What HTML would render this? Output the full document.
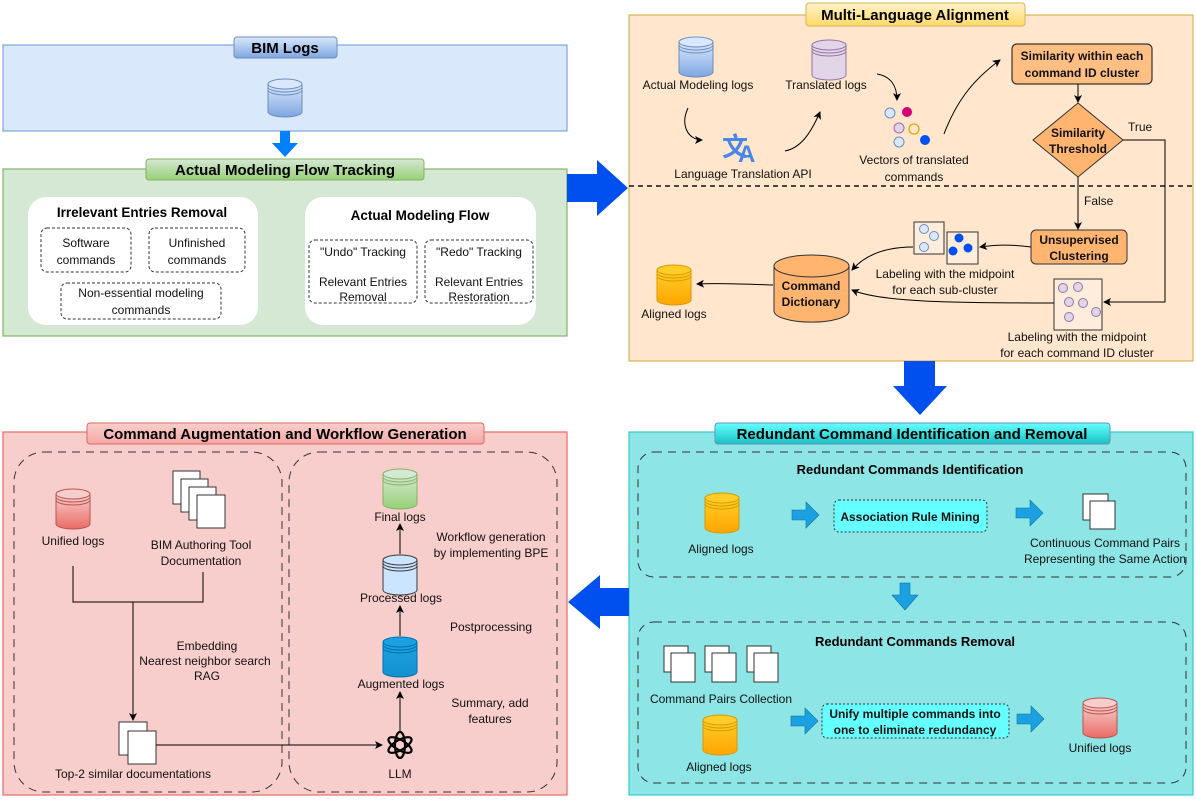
<!DOCTYPE html>
<html><head><meta charset="utf-8"><style>
html,body{margin:0;padding:0;background:#fff;}
svg{display:block;font-family:"Liberation Sans",Arial,sans-serif;}
.t{font-size:12px;fill:#111;}
.b{font-weight:bold;}
</style></head><body>
<svg width="1196" height="810" viewBox="0 0 1196 810" xmlns="http://www.w3.org/2000/svg">
<defs>
<marker id="ah" markerWidth="8" markerHeight="8" refX="7" refY="4" orient="auto" markerUnits="userSpaceOnUse"><path d="M0,0 L8,4 L0,8 L2,4 z" fill="#000"/></marker>
<linearGradient id="gBlue" x1="0" y1="0" x2="0" y2="1"><stop offset="0" stop-color="#dae8fc"/><stop offset="1" stop-color="#7ea6e0"/></linearGradient>
<linearGradient id="gGreen" x1="0" y1="0" x2="0" y2="1"><stop offset="0" stop-color="#d5e8d4"/><stop offset="1" stop-color="#97d077"/></linearGradient>
<linearGradient id="gYel" x1="0" y1="0" x2="0" y2="1"><stop offset="0" stop-color="#fff2cc"/><stop offset="1" stop-color="#ffd966"/></linearGradient>
<linearGradient id="gRed" x1="0" y1="0" x2="0" y2="1"><stop offset="0" stop-color="#f8cecc"/><stop offset="1" stop-color="#f5a8a5"/></linearGradient>
<linearGradient id="gCyan" x1="0" y1="0" x2="0" y2="1"><stop offset="0" stop-color="#66ffff"/><stop offset="1" stop-color="#18c2c2"/></linearGradient>
<linearGradient id="cBlue" x1="0" y1="0" x2="0" y2="1"><stop offset="0" stop-color="#dae8fc"/><stop offset="1" stop-color="#7ea6e0"/></linearGradient>
<linearGradient id="cOr" x1="0" y1="0" x2="0" y2="1"><stop offset="0" stop-color="#ffcd28"/><stop offset="1" stop-color="#ffa500"/></linearGradient>
<linearGradient id="cRed" x1="0" y1="0" x2="0" y2="1"><stop offset="0" stop-color="#f8cecc"/><stop offset="1" stop-color="#ea6b66"/></linearGradient>
<linearGradient id="cGrn" x1="0" y1="0" x2="0" y2="1"><stop offset="0" stop-color="#d5e8d4"/><stop offset="1" stop-color="#97d077"/></linearGradient>
<linearGradient id="cDB" x1="0" y1="0" x2="0" y2="1"><stop offset="0" stop-color="#1ba1e2"/><stop offset="1" stop-color="#1492d0"/></linearGradient>
</defs>

<rect x="3" y="45" width="564" height="86" fill="#dae8fc" stroke="#7ea6e0" stroke-width="1.2"/>
<rect x="234" y="37" width="103" height="21" rx="3" fill="url(#gBlue)" stroke="#6c8ebf"/>
<text x="285" y="53" text-anchor="middle" class="b" font-size="15">BIM Logs</text>
<g><path d="M268,84 v28 a17,5 0 0 0 34,0 v-28" fill="url(#cBlue)" stroke="#6c8ebf"/><ellipse cx="285" cy="84" rx="17" ry="5" fill="#dae8fc" stroke="#6c8ebf"/><path d="M268,87 a17,5 0 0 0 34,0 M268,90 a17,5 0 0 0 34,0" fill="none" stroke="#6c8ebf"/></g>
<path d="M280,131 h10 v12 h8 l-13,14 l-13,-14 h8 z" fill="#007fff"/>

<rect x="3" y="169" width="564" height="167" fill="#d5e8d4" stroke="#82b366" stroke-width="1.2"/>
<rect x="146" y="159" width="278" height="21" rx="3" fill="url(#gGreen)" stroke="#82b366"/>
<text x="285" y="175" text-anchor="middle" class="b" font-size="15">Actual Modeling Flow Tracking</text>
<rect x="28" y="197" width="230" height="128" rx="18" fill="#fff"/>
<rect x="305" y="197" width="231" height="128" rx="18" fill="#fff"/>
<text x="142" y="217" text-anchor="middle" class="b" font-size="13.5">Irrelevant Entries Removal</text>
<text x="420" y="220" text-anchor="middle" class="b" font-size="13.5">Actual Modeling Flow</text>
<g fill="none" stroke="#333" stroke-dasharray="3,2">
<rect x="41" y="228" width="90" height="44" rx="6"/>
<rect x="149" y="228" width="96" height="44" rx="6"/>
<rect x="61" y="283" width="160" height="36" rx="6"/>
<rect x="309" y="240" width="108" height="63" rx="6"/>
<rect x="425" y="240" width="108" height="63" rx="6"/>
</g>
<g class="t" text-anchor="middle" font-size="12">
<text x="86" y="247">Software</text><text x="86" y="264">commands</text>
<text x="197" y="247">Unfinished</text><text x="197" y="264">commands</text>
<text x="141" y="297">Non-essential modeling</text><text x="141" y="314">commands</text>
<text x="363" y="256">"Undo"  Tracking</text><text x="363" y="286">Relevant Entries</text><text x="363" y="301">Removal</text>
<text x="479" y="256">"Redo"  Tracking</text><text x="479" y="286">Relevant Entries</text><text x="479" y="301">Restoration</text>
</g>
<path d="M567,174 h30 v-14 l31,28 l-31,28 v-14 h-30 z" fill="#0050ef"/>

<rect x="629" y="15" width="564" height="346" fill="#ffe6cc" stroke="#d6b656" stroke-width="1.2"/>
<rect x="806" y="3" width="219" height="23" rx="3" fill="url(#gYel)" stroke="#d6b656"/>
<text x="915" y="20" text-anchor="middle" class="b" font-size="15">Multi-Language Alignment</text>
<line x1="629" y1="186" x2="1193" y2="186" stroke="#111" stroke-width="1.5" stroke-dasharray="5,4"/>
<g><path d="M679,42 v30 a17,5 0 0 0 34,0 v-30" fill="url(#cBlue)" stroke="#6c8ebf"/><ellipse cx="696" cy="42" rx="17" ry="5" fill="#dae8fc" stroke="#6c8ebf"/><path d="M679,45 a17,5 0 0 0 34,0 M679,48 a17,5 0 0 0 34,0" fill="none" stroke="#6c8ebf"/></g>
<g><path d="M812,45 v30 a17,5 0 0 0 34,0 v-30" fill="#e1d5e7" stroke="#9673a6"/><ellipse cx="829" cy="45" rx="17" ry="5" fill="#e1d5e7" stroke="#9673a6"/><path d="M812,48 a17,5 0 0 0 34,0 M812,51 a17,5 0 0 0 34,0" fill="none" stroke="#9673a6"/></g>
<text x="698" y="89" text-anchor="middle" class="t">Actual Modeling logs</text>
<text x="826" y="89" text-anchor="middle" class="t">Translated logs</text>
<text x="722" y="156" font-size="26" font-weight="bold" fill="#4a86e8" font-family="'Noto Sans CJK SC',sans-serif">文</text>
<text x="738" y="162" font-size="24" font-weight="bold" fill="#4a86e8">A</text>
<text x="743" y="178" text-anchor="middle" class="t">Language Translation API</text>
<path d="M688,108 C680,125 688,140 702,140" fill="none" stroke="#000" marker-end="url(#ah)"/>
<path d="M785,151 C800,148 810,135 820,112" fill="none" stroke="#000" marker-end="url(#ah)"/>
<path d="M877,74 C890,76 897,85 897,100" fill="none" stroke="#000" marker-end="url(#ah)"/>
<path d="M944,134 C955,105 970,82 1000,60" fill="none" stroke="#000" marker-end="url(#ah)"/>
<circle cx="890" cy="113" r="5" fill="#dae8fc" stroke="#6c8ebf"/>
<circle cx="907" cy="112" r="5" fill="#d80073"/>
<circle cx="899" cy="128" r="5" fill="#e1d5e7" stroke="#9673a6"/>
<circle cx="914" cy="129" r="5" fill="none" stroke="#e3a800" stroke-width="1.3"/>
<circle cx="925" cy="140" r="5" fill="#0050ef"/>
<circle cx="899" cy="142" r="5" fill="#dae8fc" stroke="#6c8ebf"/>
<text x="914" y="164" text-anchor="middle" class="t">Vectors of translated</text>
<text x="914" y="181" text-anchor="middle" class="t">commands</text>
<rect x="1012" y="44" width="140" height="40" rx="5" fill="#ffb570" stroke="#333" stroke-width="1.2" fill-opacity="0.8"/>
<text x="1082" y="60" text-anchor="middle" class="b t">Similarity within each</text>
<text x="1082" y="77" text-anchor="middle" class="b t">command ID cluster</text>
<line x1="1078" y1="84" x2="1078" y2="102" stroke="#000" marker-end="url(#ah)"/>
<path d="M1078,103 L1123,140 L1078,177 L1033,140 z" fill="#ffb570" stroke="#333"/>
<text x="1078" y="137" text-anchor="middle" class="b t">Similarity</text>
<text x="1078" y="153" text-anchor="middle" class="b t">Threshold</text>
<text x="1128" y="131" class="t">True</text>
<path d="M1123,140 H1165 V302 H1104" fill="none" stroke="#000" marker-end="url(#ah)"/>
<line x1="1078" y1="177" x2="1078" y2="229" stroke="#000" marker-end="url(#ah)"/>
<text x="1084" y="205" class="t">False</text>
<rect x="1031" y="230" width="96" height="34" rx="5" fill="#ffb570" stroke="#333"/>
<text x="1079" y="244" text-anchor="middle" class="b t">Unsupervised</text>
<text x="1079" y="260" text-anchor="middle" class="b t">Clustering</text>
<rect x="914" y="222" width="30" height="32" fill="#fff" fill-opacity="0.3" stroke="#333"/>
<circle cx="924" cy="229" r="4.5" fill="#dae8fc" stroke="#6c8ebf"/><circle cx="934" cy="236" r="4.5" fill="#dae8fc" stroke="#6c8ebf"/><circle cx="924" cy="247" r="4.5" fill="#dae8fc" stroke="#6c8ebf"/>
<rect x="947" y="232" width="31" height="32" fill="#fff" fill-opacity="0.3" stroke="#333"/>
<circle cx="959" cy="238" r="4.5" fill="#0050ef"/><circle cx="953" cy="251" r="4.5" fill="#0050ef"/><circle cx="968" cy="248" r="4.5" fill="#0050ef"/>
<path d="M1031,247 C1010,244 995,245 980,247" fill="none" stroke="#000" marker-end="url(#ah)"/>
<text x="945" y="278" text-anchor="middle" class="t">Labeling with the midpoint</text>
<text x="945" y="294" text-anchor="middle" class="t">for each sub-cluster</text>
<path d="M913,247 C885,247 865,255 852,270" fill="none" stroke="#000" marker-end="url(#ah)"/>
<rect x="1054" y="279" width="48" height="51" fill="#fff" fill-opacity="0.3" stroke="#333"/>
<circle cx="1063" cy="288" r="4.5" fill="#e1d5e7" stroke="#9673a6"/><circle cx="1078" cy="287" r="4.5" fill="#e1d5e7" stroke="#9673a6"/>
<circle cx="1069" cy="302" r="4.5" fill="#e1d5e7" stroke="#9673a6"/><circle cx="1083" cy="303" r="4.5" fill="#e1d5e7" stroke="#9673a6"/>
<circle cx="1096" cy="312" r="4.5" fill="#e1d5e7" stroke="#9673a6"/><circle cx="1069" cy="317" r="4.5" fill="#e1d5e7" stroke="#9673a6"/>
<text x="1077" y="341" text-anchor="middle" class="t">Labeling with the midpoint</text>
<text x="1077" y="357" text-anchor="middle" class="t">for each command ID cluster</text>
<path d="M1054,303 C950,303 880,302 852,290" fill="none" stroke="#000" marker-end="url(#ah)"/>
<path d="M774,266 v45 a37,11 0 0 0 75,0 v-45" fill="#ffb570" stroke="#333"/>
<ellipse cx="811.5" cy="266" rx="37.5" ry="11" fill="#ffb570" stroke="#333"/>
<text x="811" y="290" text-anchor="middle" class="b t">Command</text>
<text x="811" y="306" text-anchor="middle" class="b t">Dictionary</text>
<path d="M773,285 C740,284 720,283 697,284" fill="none" stroke="#000" marker-end="url(#ah)"/>
<g><path d="M657,270 v30 a17,5 0 0 0 34,0 v-30" fill="url(#cOr)" stroke="#d79b00"/><ellipse cx="674" cy="270" rx="17" ry="5" fill="#ffcd28" stroke="#d79b00"/><path d="M657,273 a17,5 0 0 0 34,0 M657,276 a17,5 0 0 0 34,0" fill="none" stroke="#d79b00"/></g>
<text x="674" y="318" text-anchor="middle" class="t">Aligned logs</text>

<path d="M904,361 h31 v25 h12 l-27,29 l-27,-29 h11 z" fill="#0050ef"/>

<rect x="629" y="432" width="564" height="363" fill="#8de5e5" stroke="#33cccc" stroke-width="1.2"/>
<rect x="715" y="423" width="395" height="21" rx="3" fill="url(#gCyan)" stroke="#6c8ebf"/>
<text x="912" y="439" text-anchor="middle" class="b" font-size="15">Redundant Command Identification and Removal</text>
<rect x="638" y="452" width="548" height="125" rx="16" fill="none" stroke="#333" stroke-dasharray="8,6"/>
<rect x="638" y="622" width="548" height="161" rx="16" fill="none" stroke="#333" stroke-dasharray="8,6"/>
<text x="910" y="474" text-anchor="middle" class="b" font-size="13">Redundant Commands Identification</text>
<text x="915" y="646" text-anchor="middle" class="b" font-size="13">Redundant Commands Removal</text>
<g><path d="M705,498 v30 a17,5 0 0 0 34,0 v-30" fill="url(#cOr)" stroke="#d79b00"/><ellipse cx="722" cy="498" rx="17" ry="5" fill="#ffcd28" stroke="#d79b00"/><path d="M705,501 a17,5 0 0 0 34,0 M705,504 a17,5 0 0 0 34,0" fill="none" stroke="#d79b00"/></g>
<text x="721" y="553" text-anchor="middle" class="t">Aligned logs</text>
<g id="ba"><path d="M792,510 h14 v-8 l13,13 l-13,13 v-8 h-14 z" fill="#1ba1e2" stroke="#10739e" stroke-width="0.6"/></g>
<rect x="834" y="500" width="153" height="32" rx="5" fill="#66ffff" stroke="#333" stroke-dasharray="2,2"/>
<text x="910" y="521" text-anchor="middle" class="b t">Association Rule Mining</text>
<use href="#ba" transform="translate(224,-2)"/>
<rect x="1083" y="494" width="25" height="26" fill="#fff" stroke="#333"/>
<rect x="1090" y="501" width="25" height="28" fill="#fff" stroke="#333"/>
<text x="1105" y="547" text-anchor="middle" class="t">Continuous Command Pairs</text>
<text x="1105" y="563" text-anchor="middle" class="t">Representing the Same Action</text>
<path d="M900,583 h10 v12 h8 l-13,15 l-13,-15 h8 z" fill="#1ba1e2" stroke="#10739e" stroke-width="0.6"/>
<g fill="#fff" stroke="#333">
<rect x="664" y="646" width="24" height="26"/><rect x="671" y="653" width="24" height="29"/>
<rect x="705" y="646" width="24" height="26"/><rect x="712" y="653" width="24" height="29"/>
<rect x="747" y="646" width="24" height="26"/><rect x="754" y="653" width="24" height="29"/>
</g>
<text x="721" y="703" text-anchor="middle" class="t">Command Pairs Collection</text>
<g><path d="M703,720 v30 a17,5 0 0 0 34,0 v-30" fill="url(#cOr)" stroke="#d79b00"/><ellipse cx="720" cy="720" rx="17" ry="5" fill="#ffcd28" stroke="#d79b00"/><path d="M703,723 a17,5 0 0 0 34,0 M703,726 a17,5 0 0 0 34,0" fill="none" stroke="#d79b00"/></g>
<text x="719" y="771" text-anchor="middle" class="t">Aligned logs</text>
<use href="#ba" transform="translate(-1,206)"/>
<rect x="822" y="704" width="187" height="34" rx="5" fill="#66ffff" stroke="#333" stroke-dasharray="2,2"/>
<text x="915" y="718" text-anchor="middle" class="b t">Unify multiple commands into</text>
<text x="915" y="734" text-anchor="middle" class="b t">one to eliminate redundancy</text>
<use href="#ba" transform="translate(225,204)"/>
<g><path d="M1083,703 v30 a17,5 0 0 0 34,0 v-30" fill="url(#cRed)" stroke="#b85450"/><ellipse cx="1100" cy="703" rx="17" ry="5" fill="#f8cecc" stroke="#b85450"/><path d="M1083,706 a17,5 0 0 0 34,0 M1083,709 a17,5 0 0 0 34,0" fill="none" stroke="#b85450"/></g>
<text x="1100" y="752" text-anchor="middle" class="t">Unified logs</text>

<path d="M629,588 h-29 v-13 l-32,27 l32,27 v-13 h29 z" fill="#0050ef"/>

<rect x="3" y="432" width="564" height="363" fill="#f8cecc" stroke="#ea6b66" stroke-width="1.2"/>
<rect x="87" y="423" width="397" height="21" rx="3" fill="url(#gRed)" stroke="#e06666"/>
<text x="285" y="439" text-anchor="middle" class="b" font-size="15">Command Augmentation and Workflow Generation</text>
<rect x="14" y="452" width="268" height="340" rx="30" fill="none" stroke="#333" stroke-dasharray="8,6"/>
<rect x="289" y="452" width="268" height="340" rx="30" fill="none" stroke="#333" stroke-dasharray="8,6"/>
<g><path d="M56,494 v30 a17,5 0 0 0 34,0 v-30" fill="url(#cRed)" stroke="#b85450"/><ellipse cx="73" cy="494" rx="17" ry="5" fill="#f8cecc" stroke="#b85450"/><path d="M56,497 a17,5 0 0 0 34,0 M56,500 a17,5 0 0 0 34,0" fill="none" stroke="#b85450"/></g>
<text x="73" y="545" text-anchor="middle" class="t">Unified logs</text>
<g fill="#fff" stroke="#333">
<rect x="173" y="471" width="27" height="33"/><rect x="181" y="479" width="27" height="33"/><rect x="189" y="487" width="27" height="33"/><rect x="197" y="495" width="28" height="33"/>
</g>
<text x="201" y="549" text-anchor="middle" class="t">BIM Authoring Tool</text>
<text x="201" y="565" text-anchor="middle" class="t">Documentation</text>
<path d="M73,566 V602 H203 V572 M133,602 V720" fill="none" stroke="#000" marker-end="url(#ah)"/>
<text x="207" y="650" text-anchor="middle" class="t">Embedding</text>
<text x="205" y="665" text-anchor="middle" class="t">Nearest neighbor search</text>
<text x="207" y="680" text-anchor="middle" class="t">RAG</text>
<rect x="119" y="722" width="28" height="33" fill="#fff" stroke="#333"/>
<rect x="128" y="731" width="28" height="33" fill="#fff" stroke="#333"/>
<text x="133" y="778" text-anchor="middle" class="t">Top-2 similar documentations</text>
<line x1="156" y1="745" x2="382" y2="745" stroke="#000" marker-end="url(#ah)"/>
<g fill="none" stroke="#000" stroke-width="2.2" transform="translate(400,745)">
<ellipse rx="5" ry="13"/>
<ellipse rx="5" ry="13" transform="rotate(60)"/>
<ellipse rx="5" ry="13" transform="rotate(120)"/>
</g>
<text x="400" y="778" text-anchor="middle" class="t">LLM</text>
<g stroke="#000"><line x1="400" y1="731" x2="400" y2="692" marker-end="url(#ah)"/><line x1="400" y1="636" x2="400" y2="606" marker-end="url(#ah)"/><line x1="400" y1="554" x2="400" y2="524" marker-end="url(#ah)"/></g>
<g><path d="M383,474 v30 a17,5 0 0 0 34,0 v-30" fill="url(#cGrn)" stroke="#82b366"/><ellipse cx="400" cy="474" rx="17" ry="5" fill="#d5e8d4" stroke="#82b366"/><path d="M383,477 a17,5 0 0 0 34,0 M383,480 a17,5 0 0 0 34,0" fill="none" stroke="#82b366"/></g>
<text x="400" y="521" text-anchor="middle" class="t">Final logs</text>
<g><path d="M383,560 v30 a17,5 0 0 0 34,0 v-30" fill="#cce5ff" stroke="#36393d"/><ellipse cx="400" cy="560" rx="17" ry="5" fill="#cce5ff" stroke="#36393d"/><path d="M383,563 a17,5 0 0 0 34,0 M383,566 a17,5 0 0 0 34,0" fill="none" stroke="#36393d"/></g>
<text x="401" y="602" text-anchor="middle" class="t">Processed logs</text>
<g><path d="M383,642 v30 a17,5 0 0 0 34,0 v-30" fill="url(#cDB)" stroke="#006eaf"/><ellipse cx="400" cy="642" rx="17" ry="5" fill="#1ba1e2" stroke="#006eaf"/><path d="M383,645 a17,5 0 0 0 34,0 M383,648 a17,5 0 0 0 34,0" fill="none" stroke="#006eaf"/></g>
<text x="401" y="688" text-anchor="middle" class="t">Augmented logs</text>
<text x="491" y="541" text-anchor="middle" class="t">Workflow generation</text>
<text x="491" y="557" text-anchor="middle" class="t">by implementing BPE</text>
<text x="491" y="631" text-anchor="middle" class="t">Postprocessing</text>
<text x="490" y="707" text-anchor="middle" class="t">Summary, add</text>
<text x="490" y="723" text-anchor="middle" class="t">features</text>
</svg>
</body></html>
